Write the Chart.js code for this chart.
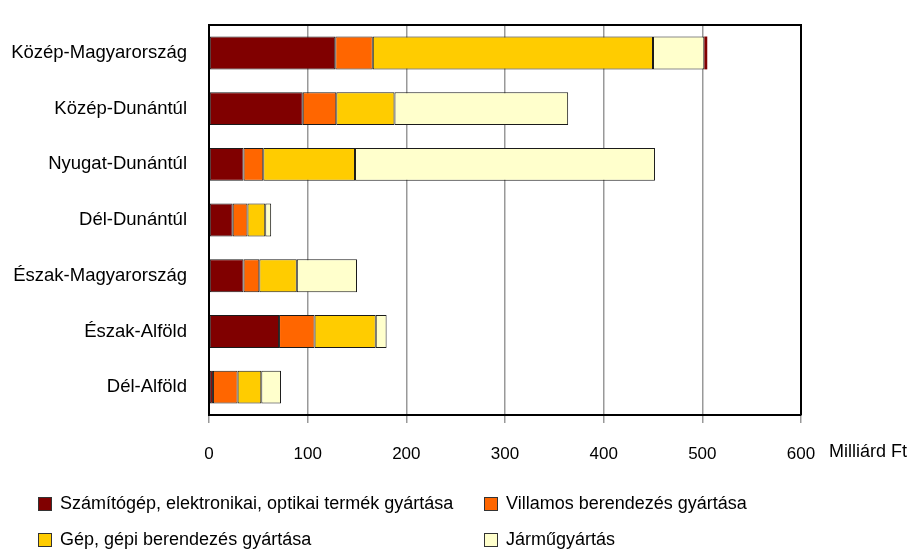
<!DOCTYPE html>
<html lang="hu">
<head>
<meta charset="utf-8">
<title>Feldolgozóipar régiónként</title>
<script src="https://cdn.jsdelivr.net/npm/chart.js@4.4.1/dist/chart.umd.min.js"></script>
<style>
  html, body { margin: 0; padding: 0; background: #fff; }
  #wrap { position: relative; width: 912px; height: 552px; }
  #legend {
    position: absolute; left: 38px; top: 493px; width: 860px;
    font-family: "Liberation Sans", Arial, sans-serif;
    font-size: 18px; color: #000;
  }
  .item { position: absolute; display: flex; align-items: center; white-space: nowrap; }
  .box { width: 12px; height: 12px; border: 1px solid #333; margin-right: 8px; }
</style>
</head>
<body>
<div id="wrap">
  <canvas id="chart" width="912" height="552"></canvas>
  <div id="legend"></div>
</div>
<script>
const regiok = [
  "Közép-Magyarország",
  "Közép-Dunántúl",
  "Nyugat-Dunántúl",
  "Dél-Dunántúl",
  "Észak-Magyarország",
  "Észak-Alföld",
  "Dél-Alföld",
];
// Milliárd Ft
const szamitogep = [128, 95, 35, 24, 35, 71, 4];
const villamos = [38, 34, 20, 15, 16, 36, 25];
const gep = [284, 59, 93, 18, 38, 62, 24];
const jarmu = [52, 176, 304, 6, 61, 11, 20];
const maradek = [3, null, null, null, null, null, null];
const xTicks = [0, 100, 200, 300, 400, 500, 600];

const betu = "'Liberation Sans', Arial, sans-serif";

const sorozatok = [
  { label: "Számítógép, elektronikai, optikai termék gyártása", data: szamitogep, color: "#800000" },
  { label: "Villamos berendezés gyártása", data: villamos, color: "#ff6600" },
  { label: "Gép, gépi berendezés gyártása", data: gep, color: "#ffcc00" },
  { label: "Járműgyártás", data: jarmu, color: "#ffffcc" },
];

const datasets = sorozatok.map(function (s) {
  return {
    label: s.label,
    data: s.data,
    backgroundColor: s.color,
    borderColor: "#1a1a1a",
    borderWidth: 1,
    borderSkipped: false,
    barPercentage: 0.59,
    categoryPercentage: 1,
  };
});
datasets.push({
  label: "",
  data: maradek,
  backgroundColor: "#800000",
  borderWidth: 0,
  barPercentage: 0.59,
  categoryPercentage: 1,
});

/* top and right frame + axis unit */
const keret = {
  id: "keret",
  afterDraw(chart) {
    const ctx = chart.ctx;
    const a = chart.chartArea;
    ctx.save();
    ctx.strokeStyle = "#000";
    ctx.lineWidth = 2;
    ctx.beginPath();
    ctx.moveTo(a.left, a.top);
    ctx.lineTo(a.right, a.top);
    ctx.lineTo(a.right, a.bottom);
    ctx.stroke();
    ctx.fillStyle = "#000";
    ctx.font = "18px " + betu;
    ctx.textBaseline = "middle";
    ctx.textAlign = "left";
    ctx.fillText("Milliárd Ft", a.right + 28, 452);
    ctx.restore();
  },
};

new Chart(document.getElementById("chart"), {
  type: "bar",
  data: { labels: regiok, datasets: datasets },
  plugins: [keret],
  options: {
    responsive: false,
    animation: false,
    indexAxis: "y",
    layout: { padding: { top: 13, right: 111, left: 0, bottom: 0 } },
    plugins: {
      legend: { display: false },
      tooltip: { enabled: false },
    },
    scales: {
      x: {
        stacked: true,
        min: 0,
        max: 600,
        afterBuildTicks(scale) {
          scale.ticks = xTicks.map((v) => ({ value: v }));
        },
        afterFit(scale) {
          scale.height = 137;
        },
        grid: {
          color: "#999",
          lineWidth: 1.5,
          tickLength: 8,
        },
        border: { color: "#000", width: 2 },
        ticks: {
          color: "#000",
          padding: 21,
          font: { family: betu, size: 17 },
        },
      },
      y: {
        stacked: true,
        afterFit(scale) {
          scale.width = 209;
        },
        grid: { display: false },
        border: { color: "#000", width: 2 },
        ticks: {
          color: "#000",
          padding: 14,
          font: { family: betu, size: 18.5 },
        },
      },
    },
  },
});

/* legend, two columns */
const legend = document.getElementById("legend");
const helyek = [
  [0, 0],
  [446, 0],
  [0, 36],
  [446, 36],
];
sorozatok.forEach(function (s, i) {
  const el = document.createElement("div");
  el.className = "item";
  el.style.left = helyek[i][0] + "px";
  el.style.top = helyek[i][1] + "px";
  el.innerHTML = '<span class="box" style="background:' + s.color + '"></span>' + s.label;
  legend.appendChild(el);
});
</script>
</body>
</html>
